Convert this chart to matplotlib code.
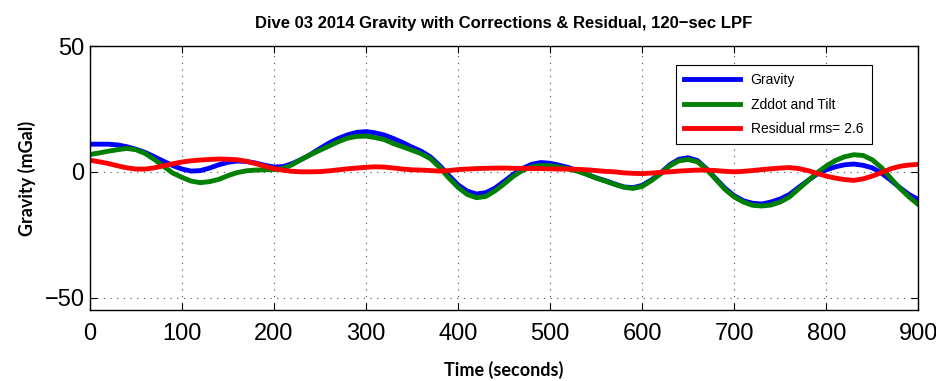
import numpy as np
import matplotlib.pyplot as plt

# time axis (s), values every 10 s
t = np.arange(0, 901, 10)

gravity = [11, 11, 11, 10.7, 10, 9, 7.7, 6, 4.2, 2.5,
           1.1, 0.3, 0.5, 1.5, 2.8, 3.8, 4.3, 4.1, 3.5, 2.6,
           1.9, 2.1, 3.3, 5, 7, 9.3, 11.5, 13.3, 14.7, 15.7,
           16, 15.5, 14.6, 13.2, 11.6, 9.8, 8.2, 5.9, 2.5, -1.5,
           -5.2, -7.7, -8.8, -8.3, -6.5, -3.8, -1, 1.3, 3, 3.7,
           3.4, 2.6, 1.7, 0.4, -1, -2.4, -3.5, -4.8, -6, -6.3,
           -5.4, -3.2, -0.5, 2.8, 5, 5.6, 4.5, 1.2, -2.7, -6.5,
           -9.5, -11.5, -12.5, -12.8, -12, -10.8, -9, -6.2, -3.5, -0.9,
           0.8, 2, 2.8, 3.1, 2.6, 1.6, -0.5, -3.3, -6.3, -9,
           -11]

zddot_tilt = [6.9, 7.5, 8.2, 8.8, 9.3, 8.8, 7.3, 4.9, 2.2, -0.5,
              -2.2, -3.7, -4.3, -3.9, -3, -1.5, -0.3, 0.4, 0.7, 0.8,
              0.9, 1.3, 2.9, 5, 6.9, 8.6, 10.3, 12, 13.4, 14.1,
              14.2, 13.6, 12.8, 11.2, 9.9, 8.6, 7.2, 5.2, 1.8, -2.5,
              -6.2, -9, -10.3, -9.8, -7.6, -4.8, -1.8, 0.6, 2, 2.5,
              2.4, 1.9, 1.2, 0.2, -1, -2.5, -3.7, -5, -6.1, -6.6,
              -5.8, -3.5, -0.8, 2.4, 4.4, 4.9, 4, 1, -3, -7,
              -10, -12, -13.3, -13.6, -13.2, -12, -10, -6.8, -3.6, -0.4,
              2.3, 4.5, 6, 6.8, 6.5, 4.8, 1.7, -2.5, -6.5, -10,
              -13]

residual = [4.6, 4, 3.3, 2.4, 1.6, 1.1, 1.1, 1.6, 2.4, 3.2,
            3.9, 4.4, 4.7, 4.9, 5.1, 5, 4.8, 4.2, 3.3, 2.2,
            1.3, 0.6, 0.2, 0, 0, 0.1, 0.4, 0.8, 1.2, 1.5,
            1.8, 2, 1.9, 1.5, 1.1, 0.8, 0.7, 0.5, 0.3, 0.5,
            0.9, 1.1, 1.3, 1.4, 1.5, 1.5, 1.4, 1.4, 1.3, 1.3,
            1.2, 1.1, 1.1, 1, 0.8, 0.5, 0.2, 0, -0.4, -0.6,
            -0.7, -0.5, -0.2, 0, 0.3, 0.5, 0.7, 0.7, 0.5, 0.2,
            0, 0.2, 0.5, 0.9, 1.2, 1.5, 1.7, 1.3, 0.5, -0.6,
            -1.7, -2.5, -3.1, -3.4, -2.8, -1.7, -0.3, 1.2, 2.2, 2.7,
            3]

rms = 2.6

plt.rcParams['font.family'] = ['Liberation Sans', 'DejaVu Sans']

fig = plt.figure(figsize=(9.37, 3.81), dpi=100)
ax = fig.add_axes([0.096, 0.186, 0.884, 0.693])

ax.plot(t, gravity, color='#0000ff', lw=3.5, label='Gravity')
ax.plot(t, zddot_tilt, color='#008000', lw=3.5, label='Zddot and Tilt')
ax.plot(t, residual, color='#ff0000', lw=3.5, label=f'Residual rms= {rms}')

ax.set_xlim(0, 900)
ax.set_ylim(-55, 50)
ax.set_xticks(np.arange(0, 901, 100))
ax.set_yticks([-50, 0, 50])
ax.set_yticklabels(['\u221250', '0', '50'])
ax.grid(True, color='0.3', linestyle=(0, (1, 5)), linewidth=0.8)
ax.tick_params(direction='in', labelsize=17, length=5, top=True, right=True)
ax.tick_params(axis='x', pad=9)
ax.tick_params(axis='y', pad=4)
for s in ax.spines.values():
    s.set_linewidth(1.0)

ax.set_title('Dive 03 2014 Gravity with Corrections & Residual, 120\u2212sec LPF',
             fontsize=12, fontweight='bold', pad=13)
ax.set_xlabel('Time (seconds)', fontsize=13, fontweight='bold', family=['Lato', 'DejaVu Sans'],
              labelpad=12)
ax.set_ylabel('Gravity (mGal)', fontsize=13, fontweight='bold', family=['Lato', 'DejaVu Sans'],
              labelpad=6)

leg = ax.legend(loc='upper right', bbox_to_anchor=(0.952, 0.955), fontsize=10,
                handlelength=4.0, fancybox=False, edgecolor='black', framealpha=1,
                borderpad=0.6, labelspacing=0.75)
leg.get_frame().set_linewidth(0.8)

fig.savefig('out.png', dpi=100)
